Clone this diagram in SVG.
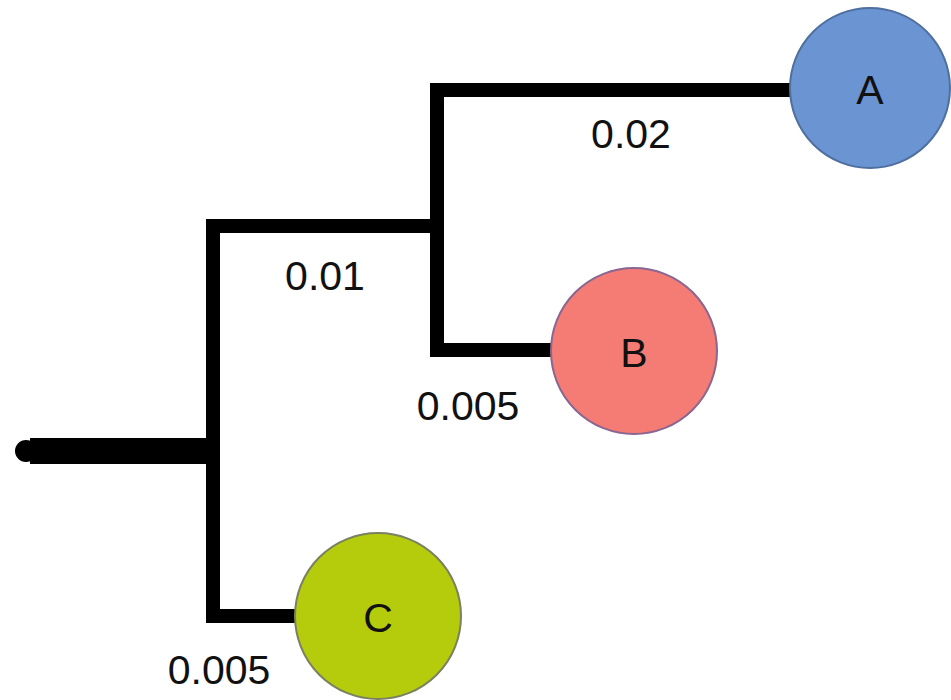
<svg xmlns="http://www.w3.org/2000/svg" width="951" height="700" viewBox="0 0 951 700">
<style>
.br{fill:none;stroke:#000;stroke-width:14;stroke-linejoin:miter;stroke-linecap:square}
.lbl{font-family:"Liberation Sans",Arial,sans-serif;font-size:41px;fill:#111;text-anchor:middle}
.nd{stroke-width:2}
</style>
<rect width="951" height="700" fill="#fff"/>
<g id="connectors">
<path class="br" d="M790,90 H437 V350 H552"/>
<path class="br" d="M437,226 H213 V616 H296"/>
<path d="M30,451 H213" fill="none" stroke="#000" stroke-width="26" stroke-linecap="butt"/>
<circle cx="26" cy="451" r="11" fill="#000"/>
</g>
<g id="labels">
<text class="lbl" x="631" y="148">0.02</text>
<text class="lbl" x="325" y="290">0.01</text>
<text class="lbl" x="468" y="420">0.005</text>
<text class="lbl" x="219" y="684">0.005</text>
</g>
<g id="nodeA">
<circle class="nd" cx="870" cy="88" r="80" fill="#6a94d2" stroke="#4f6f9f"/>
<text class="lbl" x="870" y="104" font-size="43">A</text>
</g>
<g id="nodeB">
<circle class="nd" cx="634" cy="351" r="83" fill="#f47c74" stroke="#8a6690"/>
<text class="lbl" x="634" y="367" font-size="43">B</text>
</g>
<g id="nodeC">
<circle class="nd" cx="378" cy="616" r="83" fill="#b5cc0c" stroke="#7a8060"/>
<text class="lbl" x="378" y="632" font-size="43">C</text>
</g>
</svg>
